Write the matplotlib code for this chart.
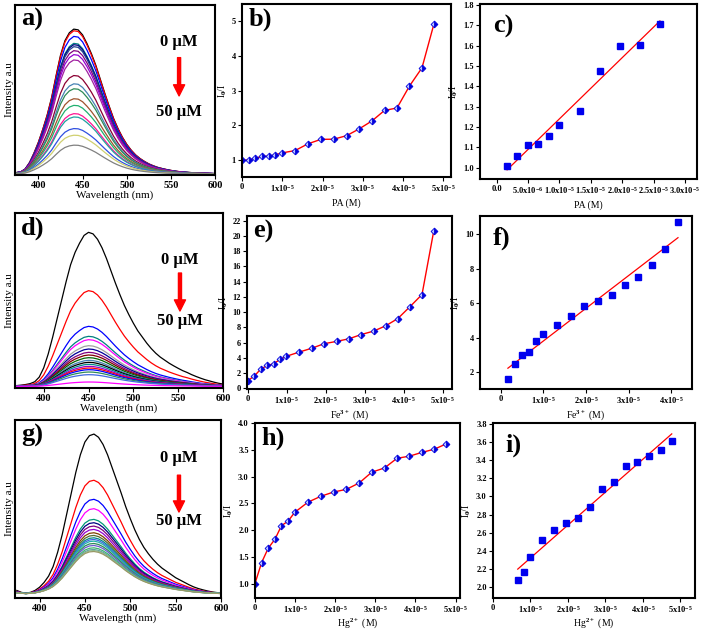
import numpy as np
import matplotlib
matplotlib.use("Agg")
import matplotlib.pyplot as plt

plt.rcParams['font.family'] = ['Liberation Serif', 'DejaVu Serif']
plt.rcParams['font.weight'] = 'bold'
plt.rcParams['mathtext.fontset'] = 'custom'
plt.rcParams['mathtext.rm'] = 'Liberation Serif'
plt.rcParams['mathtext.bf'] = 'Liberation Serif:bold'
plt.rcParams['mathtext.default'] = 'bf'

# ---- emission spectra (normalised band shapes) ----
wl_a = np.arange(375, 601, 5)
prof_a = [0.01, 0.015, 0.035, 0.08, 0.145, 0.22, 0.31, 0.41, 0.53, 0.68, 0.82, 0.92,
          0.975, 1.0, 0.995, 0.96, 0.90, 0.83, 0.75, 0.655, 0.56, 0.47, 0.385, 0.315,
          0.255, 0.205, 0.165, 0.132, 0.107, 0.087, 0.07, 0.057, 0.046, 0.038, 0.031,
          0.025, 0.02, 0.016, 0.013, 0.011, 0.009, 0.007, 0.006, 0.005, 0.004, 0.003]
wl_d = np.arange(370, 601, 5)
prof_d = [0.005, 0.008, 0.012, 0.018, 0.03, 0.06, 0.12, 0.21, 0.32, 0.44, 0.56, 0.68,
          0.79, 0.87, 0.93, 0.98, 1.0, 0.99, 0.955, 0.90, 0.83, 0.75, 0.67, 0.595, 0.525,
          0.465, 0.41, 0.36, 0.32, 0.28, 0.245, 0.215, 0.19, 0.17, 0.15, 0.133, 0.117,
          0.102, 0.09, 0.076, 0.064, 0.053, 0.043, 0.035, 0.027, 0.02, 0.015]
wl_g = np.arange(375, 601, 5)
prof_g = [0.02, 0.008, 0.003, 0.008, 0.02, 0.04, 0.07, 0.11, 0.17, 0.26, 0.37, 0.5,
          0.63, 0.76, 0.87, 0.95, 0.99, 1.0, 0.98, 0.935, 0.87, 0.79, 0.71, 0.63, 0.545,
          0.47, 0.40, 0.34, 0.29, 0.25, 0.215, 0.185, 0.16, 0.14, 0.12, 0.10, 0.085,
          0.07, 0.055, 0.042, 0.032, 0.024, 0.017, 0.011, 0.007, 0.004]

# peak heights (a.u.) of each spectrum, 0 -> 50 uM
peak_a = [437, 432, 415, 394, 390, 384, 372, 360, 344, 297, 272, 257, 227, 207, 182, 172, 137, 117, 87]
peak_d = [462, 287, 180, 150, 140, 122, 112, 102, 94, 86, 78, 72, 66, 60, 55, 50, 43, 35, 13]
peak_g = [477, 339, 282, 254, 222, 212, 202, 192, 182, 174, 167, 162, 157, 150, 144, 137, 132, 129, 126]

colors_a = ['black', '#ff0000', '#0000ff', '#008080', '#000080', '#1f3f8f', '#800080', '#9400d3',
            '#a020a0', '#8b0033', '#4682b4', '#2e8b57', '#a0522d', '#20b070', '#ff1493',
            '#20a0a0', '#3050e0', '#d0d070', '#808080']
colors_d = ['black', '#ff0000', '#0000ff', '#008080', '#ff00ff', '#a0a0a0', '#000099', '#800080',
            '#800000', '#006400', '#4682b4', '#000000', '#008b8b', '#9400d3', '#ff0000',
            '#0000ff', '#2e8b57', '#4169e1', '#ff00ff']
colors_g = ['black', '#ff0000', '#0000ff', '#ff00ff', '#009977', '#000080', '#800080', '#9400d3',
            '#804000', '#556b2f', '#008b8b', '#4169e1', '#20b2aa', '#2e8b57', '#6a5acd',
            '#3cb371', '#5f9ea0', '#8fbc8f', '#999966']

# ---- Stern-Volmer data ----
conc = np.array([0, 0.165, 0.33, 0.5, 0.66, 0.83, 0.99, 1.32, 1.64, 1.96, 2.28, 2.6,
                 2.91, 3.23, 3.54, 3.85, 4.16, 4.47, 4.77]) * 1e-5
pa_ratio = [1.0, 1.008, 1.057, 1.113, 1.116, 1.157, 1.21, 1.28, 1.473, 1.6, 1.605, 1.707,
            1.9, 2.13, 2.43, 2.5, 3.13, 3.65, 4.92]
fe_ratio = [1.0, 1.6, 2.5, 3.0, 3.2, 3.8, 4.2, 4.75, 5.25, 5.85, 6.15, 6.5, 7.05, 7.5,
            8.2, 9.15, 10.7, 12.3, 20.6]
hg_ratio = [1.0, 1.39, 1.66, 1.83, 2.08, 2.17, 2.33, 2.52, 2.63, 2.71, 2.76, 2.88, 3.08,
            3.16, 3.34, 3.38, 3.45, 3.51, 3.61]

lin_pa = slice(1, 12)
lin_fe = slice(1, 17)
lin_hg = slice(4, 19)

ticks5 = [0, 1e-5, 2e-5, 3e-5, 4e-5, 5e-5]
labels5 = ['0', '1x10$^{-5}$', '2x10$^{-5}$', '3x10$^{-5}$', '4x10$^{-5}$', '5x10$^{-5}$']
ticks_c = [0, 0.5e-5, 1e-5, 1.5e-5, 2e-5, 2.5e-5, 3e-5]
labels_c = ['0.0', '5.0x10$^{-6}$', '1.0x10$^{-5}$', '1.5x10$^{-5}$', '2.0x10$^{-5}$',
            '2.5x10$^{-5}$', '3.0x10$^{-5}$']

fig = plt.figure(figsize=(7.02, 6.30), dpi=100)


def style(ax, lsize=6):
    for s in ax.spines.values():
        s.set_linewidth(1.5)
    ax.tick_params(direction='out', length=3, width=0.8, labelsize=lsize, pad=1.5)


def spectra(rect, wl, prof, peaks, cols, xlim, ylim, letter, fx, y0, y1, ya, yb):
    ax = fig.add_axes(rect)
    prof = np.array(prof)
    for h, c in zip(peaks, cols):
        ax.plot(wl, h * prof, color=c, lw=0.9)
    ax.set_xlim(*xlim)
    ax.set_ylim(*ylim)
    ax.set_yticks([])
    ax.set_xticks([400, 450, 500, 550, 600])
    style(ax, 7.5)
    ax.set_xlabel('Wavelength (nm)', fontsize=8, labelpad=0)
    ax.set_ylabel('Intensity a.u', fontsize=8, labelpad=1)
    ax.text(0.03, 0.98, letter, transform=ax.transAxes, fontsize=19, va='top', ha='left')
    ax.text(fx, y0, '0 µM', transform=ax.transAxes, fontsize=12, ha='center', va='center')
    ax.text(fx, y1, '50 µM', transform=ax.transAxes, fontsize=12, ha='center', va='center')
    ax.annotate('', xy=(fx, yb), xytext=(fx, ya), xycoords='axes fraction',
                arrowprops=dict(color='red', width=2.2, headwidth=8, headlength=8))
    return ax


def curve(rect, y, xlim, ylim, yticks, letter, xlabel, pad=3):
    ax = fig.add_axes(rect)
    ax.plot(conc, y, color='red', lw=1.0, marker='D', ms=3.5, fillstyle='right',
            markerfacecolor='#0000dd', markerfacecoloralt='#b8c4ff', markeredgecolor='#0000dd',
            markeredgewidth=0.6)
    ax.set_xlim(*xlim)
    ax.set_ylim(*ylim)
    ax.set_xticks(ticks5)
    ax.set_xticklabels(labels5)
    ax.set_yticks(yticks)
    style(ax)
    ax.set_xlabel(xlabel, fontsize=7, labelpad=pad)
    ax.set_ylabel('I$_0$/I', fontsize=7, labelpad=2)
    ax.text(0.03, 0.98, letter, transform=ax.transAxes, fontsize=19, va='top', ha='left')
    return ax


def linear(rect, y, sel, xlim, ylim, yticks, xt, xl, letter, xlabel, yfmt, pad=3):
    ax = fig.add_axes(rect)
    x = conc[sel]
    yy = np.array(y)[sel]
    k, b = np.polyfit(x, yy, 1)
    ax.plot(x[[0, -1]], k * x[[0, -1]] + b, color='red', lw=0.9)
    ax.plot(x, yy, 's', color='#0000ee', ms=3.8)
    ax.set_xlim(*xlim)
    ax.set_ylim(*ylim)
    ax.set_xticks(xt)
    ax.set_xticklabels(xl)
    ax.set_yticks(yticks)
    ax.set_yticklabels([yfmt.format(v) for v in yticks])
    style(ax)
    ax.set_xlabel(xlabel, fontsize=7, labelpad=pad)
    ax.set_ylabel('I$_0$/I', fontsize=7, labelpad=2)
    ax.text(0.06, 0.87, letter, transform=ax.transAxes, fontsize=19, va='center', ha='left')
    return ax


# row 1
spectra([0.0214, 0.7222, 0.285, 0.27], wl_a, prof_a, peak_a, colors_a, (373.5, 600), (-3, 510),
        'a)', 0.82, 0.78, 0.37, 0.69, 0.465)
curve([0.3447, 0.719, 0.2977, 0.2746], pa_ratio, (0, 5.19e-5), (0.52, 5.48), [1, 2, 3, 4, 5],
      'b)', 'PA (M)')
linear([0.6838, 0.7159, 0.309, 0.2778], pa_ratio, lin_pa, (-0.266e-5, 3.19e-5), (0.944, 1.805),
       [1.0, 1.1, 1.2, 1.3, 1.4, 1.5, 1.6, 1.7, 1.8], ticks_c, labels_c, 'c)', 'PA (M)', '{:.1f}')

# row 2
spectra([0.0214, 0.3841, 0.2963, 0.2778], wl_d, prof_d, peak_d, colors_d, (368, 600), (-5, 520),
        'd)', 0.793, 0.73, 0.383, 0.657, 0.44)
curve([0.3519, 0.3825, 0.292, 0.2746], fe_ratio, (-0.02e-5, 5.24e-5), (-0.1, 22.6),
      list(range(0, 23, 2)), 'e)', 'Fe$^{3+}$ (M)', pad=1)
linear([0.6838, 0.3825, 0.302, 0.2746], fe_ratio, lin_fe, (-0.49e-5, 4.49e-5), (1.04, 11.04),
       [2, 4, 6, 8, 10], ticks5[:5], labels5[:5], 'f)', 'Fe$^{3+}$ (M)', '{:.0f}', pad=1)

# row 3
spectra([0.0214, 0.0508, 0.2934, 0.2825], wl_g, prof_g, peak_g, colors_g, (373, 600), (-13, 519),
        'g)', 0.796, 0.788, 0.433, 0.69, 0.483)
curve([0.3632, 0.0508, 0.292, 0.2778], hg_ratio, (0, 5.11e-5), (0.73, 4.0),
      [1.0, 1.5, 2.0, 2.5, 3.0, 3.5, 4.0], 'h)', 'Hg$^{2+}$ (M)', pad=0.5)
linear([0.7023, 0.0508, 0.2877, 0.2778], hg_ratio, lin_hg, (0, 5.39e-5), (1.88, 3.81),
       [2.0, 2.2, 2.4, 2.6, 2.8, 3.0, 3.2, 3.4, 3.6, 3.8], ticks5, labels5, 'i)', 'Hg$^{2+}$ (M)',
       '{:.1f}', pad=0.5)

fig.savefig('out.png', dpi=100)
